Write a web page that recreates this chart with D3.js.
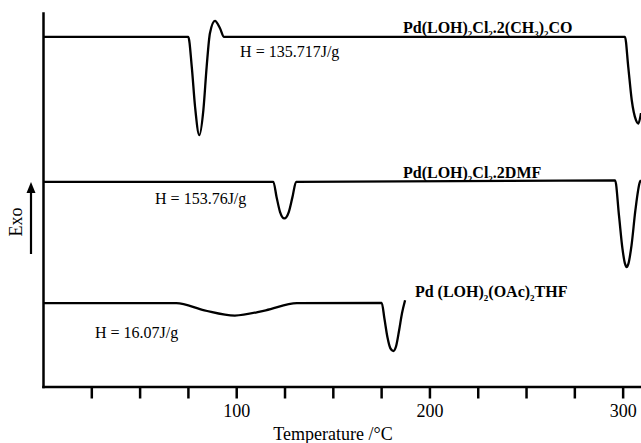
<!DOCTYPE html>
<html>
<head>
<meta charset="utf-8">
<script src="https://cdn.jsdelivr.net/npm/d3@7"></script>
<style>
  body { margin: 0; background: #fff; }
  text { font-family: "Liberation Serif", "DejaVu Serif", serif; fill: #000; }
</style>
</head>
<body>
<div id="chart"></div>
<script>
// DSC traces: temperature (°C) and heat flow (arbitrary units, exo up)
const acetoneTemp = [0, 75.2, 77.0, 78.7, 80.9, 83.0, 84.7, 86.4, 89.0, 91.6, 93.7, 301.2, 302.9, 304.7, 306.9, 308.1, 309.5];
const acetoneFlow = [93.6, 93.6, 85.6, 74.9, 67.3, 74.0, 85.6, 94.6, 97.9, 95.9, 93.6, 93.6, 85.6, 76.7, 71.3, 70.4, 73.2];

const dmfTemp = [0, 119.2, 120.9, 122.7, 124.9, 127.2, 129.1, 131.0,
  296.1, 298.1, 299.9, 301.2, 302.1, 303.0, 304.6, 306.6, 308.9, 309.5];
const dmfFlow = [54.8, 54.8, 50.7, 46.7, 45.0, 46.7, 50.7, 54.8,
  55.2, 45.8, 36.9, 32.9, 32.0, 32.9, 37.8, 47.2, 54.7, 55.2];

const thfTemp = [0, 69.0, 83.5, 99.3, 115.3, 131.4,
  175.3, 176.7, 178.3, 179.8, 181.3, 182.7, 184.3, 185.8, 187.4];
const thfFlow = [22.3, 22.3, 20.4, 19.0, 20.4, 22.3,
  22.4, 18.2, 13.1, 10.2, 9.5, 10.7, 15.0, 19.6, 23.1];

// compound labels ("_" marks the next character as subscript)
const compoundNames = ["Pd(LOH)_2Cl_2.2(CH_3)_2CO", "Pd(LOH)_2Cl_2.2DMF", "Pd (LOH)_2(OAc)_2THF"];
const compoundTemp = [186.3, 186.3, 192.5];
const compoundFlow = [94.6, 55.8, 23.9];

const enthalpyText = ["H = 135.717J/g", "H = 153.76J/g", "H = 16.07J/g"];
const enthalpyTemp = [102.0, 58.0, 26.9];
const enthalpyFlow = [88.2, 48.8, 13.1];

// x axis ticks
const tickTemps = [25, 50, 75, 100, 125, 150, 175, 200, 225, 250, 275, 300];
const tickLabels = [100, 200, 300];

const width = 641;
const height = 443;

const svg = d3.select("#chart")
  .append("svg")
  .attr("width", width)
  .attr("height", height);

const x = d3.scaleLinear()
  .domain([0, 309.5])
  .range([43, 641]);

const y = d3.scaleLinear()
  .domain([0, 100])
  .range([386.5, 13]);

// axes
const xAxis = svg.append("g")
  .attr("transform", `translate(0,${y(0)})`)
  .call(d3.axisBottom(x)
    .tickValues(tickTemps)
    .tickSize(12)
    .tickSizeOuter(0)
    .tickPadding(6)
    .tickFormat(d => tickLabels.includes(d) ? d : ""));

const yAxis = svg.append("g")
  .attr("transform", `translate(${x(0)},0)`)
  .call(d3.axisLeft(y).ticks(0).tickSizeOuter(0));

svg.selectAll(".domain")
  .attr("stroke", "#000")
  .attr("stroke-width", 2.5)
  .attr("stroke-linecap", "square");

xAxis.selectAll(".tick line")
  .attr("stroke", "#000")
  .attr("stroke-width", 2.5);

xAxis.selectAll(".tick text")
  .attr("font-family", "Liberation Serif")
  .attr("font-size", 18)
  .attr("fill", "#000");

svg.append("text")
  .attr("x", 333)
  .attr("y", 440)
  .attr("text-anchor", "middle")
  .attr("font-size", 18)
  .text("Temperature /°C");

// Exo arrow
svg.append("line")
  .attr("x1", 31).attr("x2", 31)
  .attr("y1", 254).attr("y2", 190)
  .attr("stroke", "#000")
  .attr("stroke-width", 2.2);

svg.append("path")
  .attr("d", "M31,182 L26.5,193 L35.5,193 Z")
  .attr("fill", "#000");

svg.append("text")
  .attr("transform", "translate(22,222) rotate(-90)")
  .attr("text-anchor", "middle")
  .attr("font-size", 18)
  .text("Exo");

// curves
const line = d3.line()
  .x(d => x(d[0]))
  .y(d => y(d[1]))
  .curve(d3.curveMonotoneX);

const traces = [
  d3.zip(acetoneTemp, acetoneFlow),
  d3.zip(dmfTemp, dmfFlow),
  d3.zip(thfTemp, thfFlow)
];

svg.selectAll(".trace")
  .data(traces)
  .enter()
  .append("path")
  .attr("class", "trace")
  .attr("d", line)
  .attr("fill", "none")
  .attr("stroke", "#000")
  .attr("stroke-width", 2.3)
  .attr("stroke-linejoin", "round");

// compound names with subscripts
function parts(str) {
  const out = [];
  for (let i = 0; i < str.length; i++) {
    if (str[i] === "_") {
      out.push({ t: str[i + 1], sub: true });
      i++;
    } else if (out.length && !out[out.length - 1].sub) {
      out[out.length - 1].t += str[i];
    } else {
      out.push({ t: str[i], sub: false });
    }
  }
  return out;
}

compoundNames.forEach((name, i) => {
  const t = svg.append("text")
    .attr("x", x(compoundTemp[i]))
    .attr("y", y(compoundFlow[i]))
    .attr("font-size", 16)
    .attr("font-weight", "bold");
  let shifted = false;
  parts(name).forEach(p => {
    const span = t.append("tspan").text(p.t);
    if (p.sub) {
      span.attr("font-size", 9).attr("dy", shifted ? 0 : 4);
      shifted = true;
    } else {
      if (shifted) span.attr("dy", -4);
      shifted = false;
    }
  });
});

svg.selectAll(".enthalpy")
  .data(enthalpyText)
  .enter()
  .append("text")
  .attr("class", "enthalpy")
  .attr("x", (d, i) => x(enthalpyTemp[i]))
  .attr("y", (d, i) => y(enthalpyFlow[i]))
  .attr("font-size", 16)
  .text(d => d);
</script>
</body>
</html>
